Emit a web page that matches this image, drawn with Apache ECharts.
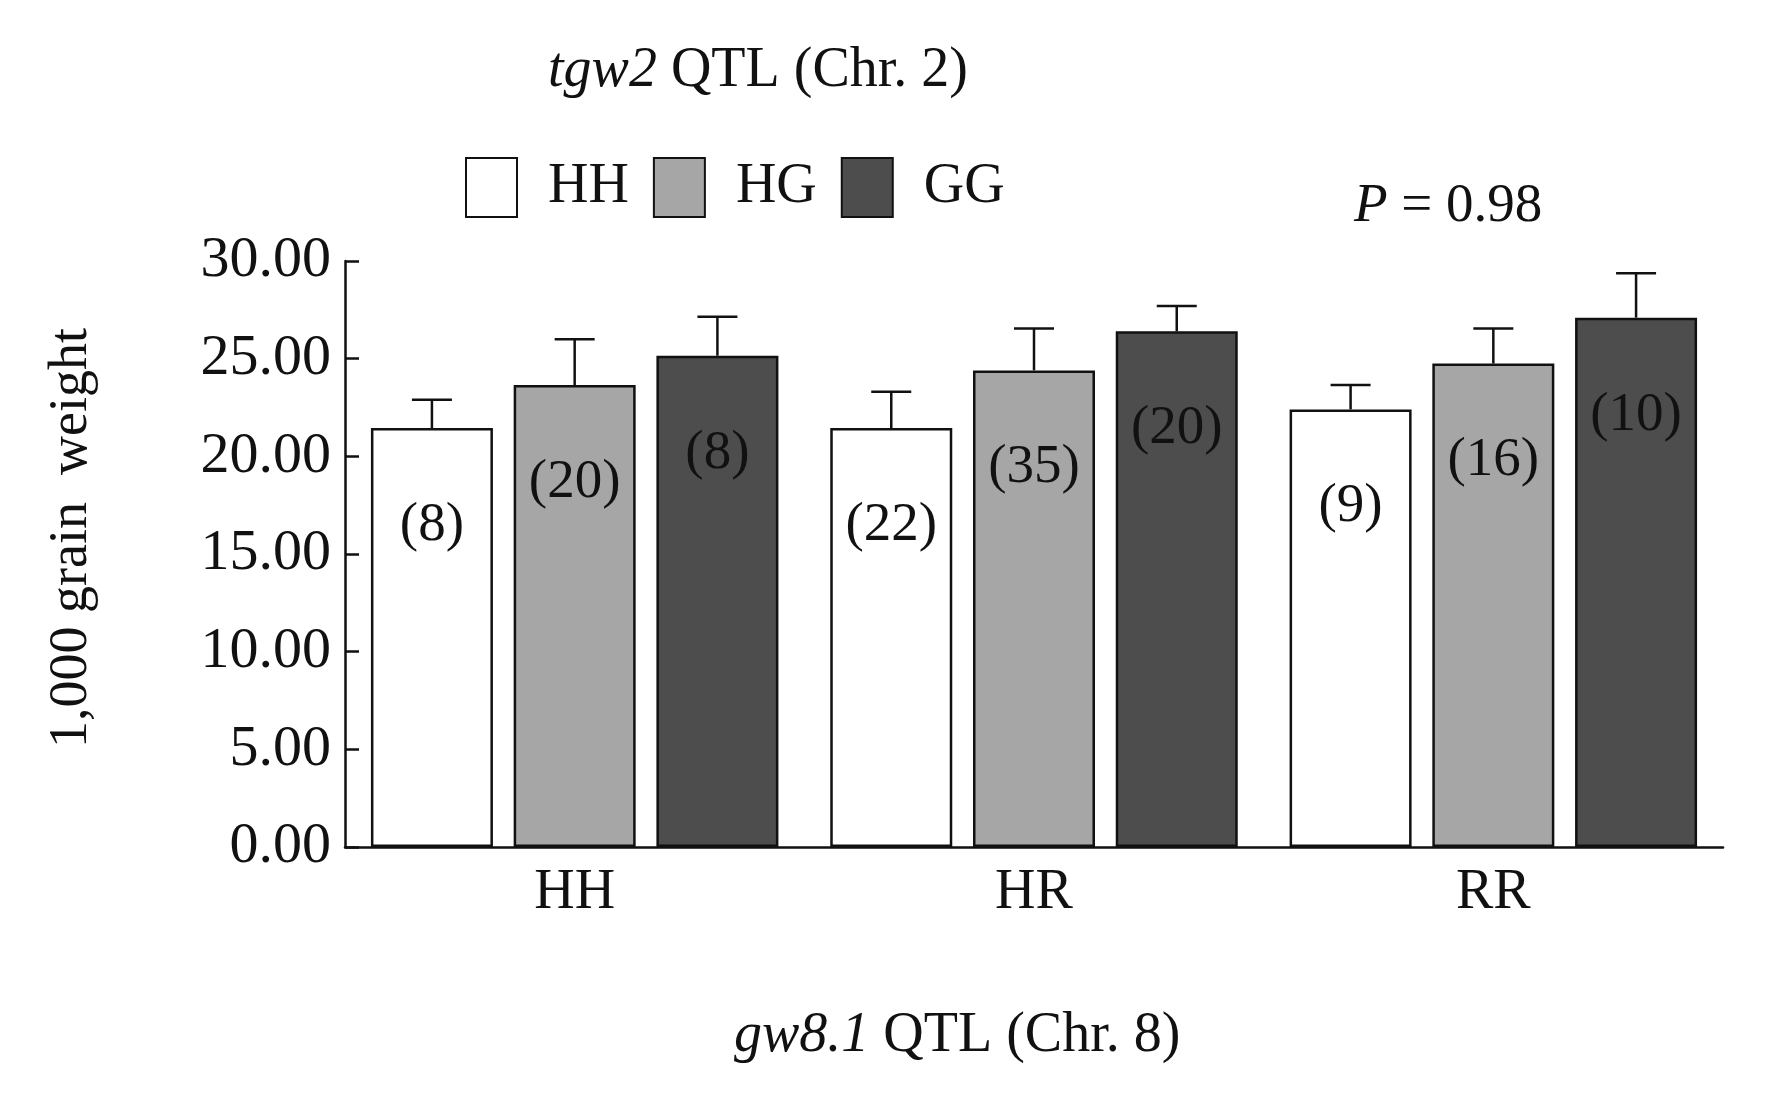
<!DOCTYPE html>
<html>
<head>
<meta charset="utf-8">
<script src="https://cdn.jsdelivr.net/npm/echarts@6/dist/echarts.min.js"></script>
<style>
  html, body { margin: 0; padding: 0; background: #fff; }
  #chart { width: 1783px; height: 1102px; }
</style>
</head>
<body>
<div id="chart"></div>
<script>
const categories = ['HH', 'HR', 'RR'];
const seriesNames = ['HH', 'HG', 'GG'];
const hhMean = [21.45, 21.45, 22.4];
const hgMean = [23.65, 24.4, 24.75];
const ggMean = [25.15, 26.4, 27.1];
const hhErr = [1.45, 1.85, 1.25];
const hgErr = [2.35, 2.15, 1.8];
const ggErr = [2.0, 1.3, 2.27];
const hhN = [8, 22, 9];
const hgN = [20, 35, 16];
const ggN = [8, 20, 10];
const yTicks = [0, 5, 10, 15, 20, 25, 30];

const font = 'Liberation Serif';
const ink = '#111';
const fills = ['#ffffff', '#a6a6a6', '#4d4d4d'];
const means = [hhMean, hgMean, ggMean];
const errs = [hhErr, hgErr, ggErr];
const counts = [hhN, hgN, ggN];

const BAR_W = 122;
const BAR_GAP = 0.17;

var dom = document.querySelector('#chart');
var myChart = echarts.init(dom);

const barSeries = seriesNames.map((name, i) => ({
    name: name,
    type: 'bar',
    barWidth: BAR_W,
    barGap: (BAR_GAP * 100) + '%',
    data: means[i],
    itemStyle: { color: fills[i], borderColor: ink, borderWidth: 2.5 },
    label: {
        show: true,
        position: 'insideTop',
        distance: 70,
        fontFamily: font,
        fontSize: 55,
        color: ink,
        formatter: p => '(' + counts[i][p.dataIndex] + ')'
    },
    z: 2
}));

const errSeries = seriesNames.map((name, i) => ({
    type: 'custom',
    name: name + ' err',
    data: categories.map((c, k) => [k, means[i][k], errs[i][k]]),
    renderItem: function (params, api) {
        const k = api.value(0), m = api.value(1), e = api.value(2);
        const base = api.coord([k, m]);
        const top = api.coord([k, m + e]);
        const cx = base[0] + (i - 1) * BAR_W * (1 + BAR_GAP);
        const style = { stroke: ink, lineWidth: 2.5 };
        return {
            type: 'group',
            children: [
                { type: 'line', shape: { x1: cx, y1: base[1], x2: cx, y2: top[1] }, style: style },
                { type: 'line', shape: { x1: cx - 20, y1: top[1], x2: cx + 20, y2: top[1] }, style: style }
            ]
        };
    },
    z: 3,
    silent: true
}));

const option = {
    animation: false,
    backgroundColor: '#fff',
    textStyle: { fontFamily: font },
    title: [
        {
            text: '{i|tgw2} QTL (Chr. 2)',
            left: 543, top: 38,
            textStyle: {
                fontFamily: font, fontSize: 56, fontWeight: 'normal', color: ink,
                rich: { i: { fontFamily: font, fontSize: 56, fontStyle: 'italic', color: ink } }
            }
        },
        {
            text: '{i|P} = 0.98',
            left: 1349, top: 174,
            textStyle: {
                fontFamily: font, fontSize: 55, fontWeight: 'normal', color: ink,
                rich: { i: { fontFamily: font, fontSize: 55, fontStyle: 'italic', color: ink } }
            }
        },
        {
            text: '{i|gw8.1} QTL (Chr. 8)',
            left: 729, top: 1003,
            textStyle: {
                fontFamily: font, fontSize: 56, fontWeight: 'normal', color: ink,
                rich: { i: { fontFamily: font, fontSize: 56, fontStyle: 'italic', color: ink } }
            }
        }
    ],
    legend: {
        data: seriesNames,
        left: 460, top: 152,
        icon: 'rect',
        itemWidth: 51, itemHeight: 59, itemGap: 24,
        textStyle: { fontFamily: font, fontSize: 56, color: ink, padding: [0, 0, 0, 26] }
    },
    grid: { left: 345, right: 60, top: 261, bottom: 255 },
    xAxis: {
        type: 'category',
        data: categories,
        axisLine: { lineStyle: { color: ink, width: 2.5 } },
        axisTick: { inside: true, length: 12, lineStyle: { color: ink, width: 2.5 } },
        axisLabel: { fontFamily: font, fontSize: 56, color: ink, margin: 18 }
    },
    yAxis: {
        type: 'value',
        min: 0, max: 30, interval: 5,
        name: '1,000 grain  weight',
        nameLocation: 'middle',
        nameGap: 246,
        nameRotate: 90,
        nameTextStyle: { fontFamily: font, fontSize: 54, color: ink, padding: [0, 0, 0, 32] },
        splitLine: { show: false },
        axisLine: { show: true, lineStyle: { color: ink, width: 2.5 } },
        axisTick: { show: true, inside: true, length: 14, lineStyle: { color: ink, width: 2.5 } },
        axisLabel: {
            fontFamily: font, fontSize: 58, color: ink, margin: 14,
            formatter: v => yTicks.includes(v) ? v.toFixed(2) : ''
        }
    },
    series: barSeries.concat(errSeries)
};
myChart.setOption(option);
</script>
</body>
</html>
